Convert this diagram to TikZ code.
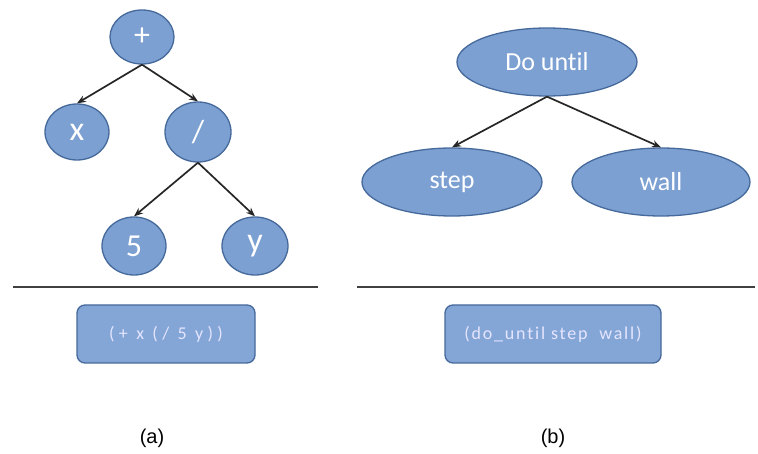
\documentclass[tikz,border=0pt]{standalone}
\usepackage{fontspec}
\setmainfont{Carlito}[Ligatures=NoCommon]
\newfontfamily\labfont{Liberation Sans}
\usetikzlibrary{shapes.geometric,arrows.meta}
\definecolor{nodefill}{RGB}{124,160,210}
\definecolor{nodeedge}{RGB}{70,105,155}
\definecolor{boxfill}{RGB}{132,166,214}
\tikzset{
  tnode/.style={ellipse, draw=nodeedge, line width=1.3pt, fill=nodefill, text=white, inner sep=0pt},
  arr/.style={-{Stealth[length=9pt,width=7pt]}, line width=1.7pt, black!85},
  codebox/.style={rounded corners=8pt, draw=nodeedge, line width=1.3pt, fill=boxfill, text=white!90!blue, inner sep=0pt},
  sep/.style={line width=1.8pt, black!75},
}
\begin{document}
\begin{tikzpicture}[x=1pt,y=-1pt]
\useasboundingbox (0,0) rectangle (758,454);
% left tree
\node[tnode, minimum width=64pt, minimum height=54pt, font=\fontsize{32}{34}\selectfont] (plus) at (142,37) {+};
\node[tnode, minimum width=64pt, minimum height=56pt, font=\fontsize{34}{36}\selectfont] (x) at (77,132) {x};
\node[tnode, minimum width=66pt, minimum height=60pt, font=\fontsize{32}{34}\selectfont] (div) at (198,132) {/};
\node[tnode, minimum width=64pt, minimum height=58pt, font=\fontsize{32}{34}\selectfont] (five) at (134,246) {5};
\node[tnode, minimum width=66pt, minimum height=58pt, font=\fontsize{34}{36}\selectfont] (y) at (255,246) {y};
\draw[arr] (plus.south) -- (x.north);
\draw[arr] (plus.south) -- (div.north);
\draw[arr] (div.south) -- (five.north);
\draw[arr] (div.south) -- (y.north);
\coordinate (l1) at (13,287);
\coordinate (l2) at (318,287);
\draw[sep] (l1) -- (l2);
\node[codebox, minimum width=178pt, minimum height=58pt, font=\fontsize{18}{20}\selectfont\addfontfeatures{LetterSpace=24}] (ca) at (166,334) {(+ x (/ 5 y))};
% right tree
\node[tnode, minimum width=180pt, minimum height=68pt, font=\fontsize{26}{28}\selectfont] (do) at (547,62) {Do until};
\node[tnode, minimum width=180pt, minimum height=68pt, font=\fontsize{26}{28}\selectfont] (step) at (452,182) {step};
\node[tnode, minimum width=178pt, minimum height=68pt, font=\fontsize{26}{28}\selectfont] (wall) at (661,182) {wall};
\draw[arr] (do.south) -- (step.north);
\draw[arr] (do.south) -- (wall.north);
\coordinate (r1) at (357,287);
\coordinate (r2) at (755,287);
\draw[sep] (r1) -- (r2);
\node[codebox, minimum width=216pt, minimum height=58pt, font=\fontsize{18}{20}\selectfont\addfontfeatures{LetterSpace=10}] (cb) at (553,334) {(do\_until step\ \ wall)};
% captions
\node[font=\labfont\fontsize{20}{22}\selectfont] (la) at (152,438) {(a)};
\node[font=\labfont\fontsize{20}{22}\selectfont] (lb) at (553,438) {(b)};
\end{tikzpicture}
\end{document}
